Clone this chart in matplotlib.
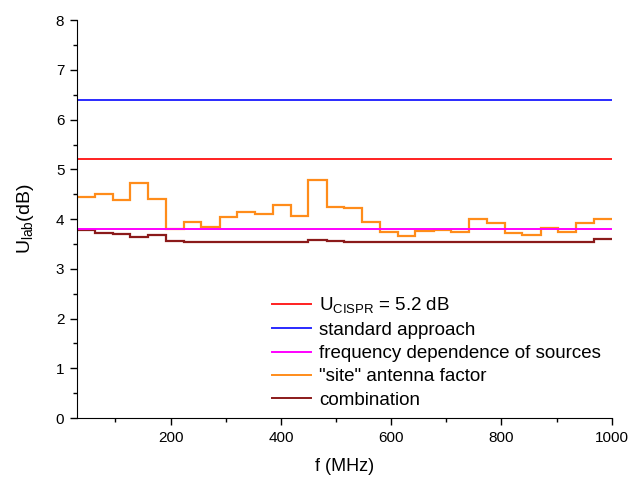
import matplotlib
matplotlib.use("Agg")
import matplotlib.pyplot as plt
from matplotlib.ticker import MultipleLocator
from matplotlib.lines import Line2D

plt.rcParams['font.family'] = ['Liberation Sans', 'DejaVu Sans']
plt.rcParams['mathtext.fontset'] = 'custom'
plt.rcParams['mathtext.rm'] = 'Liberation Sans'
plt.rcParams['mathtext.it'] = 'Liberation Sans:italic'

# data
u_cispr = 5.2
standard = 6.4
freq_dep = 3.8
edges = [30, 62, 95, 127, 159, 192, 224, 256, 289, 321, 353, 386, 418, 450, 483,
         515, 547, 580, 612, 644, 677, 709, 741, 774, 806, 838, 871, 903, 935, 968, 1000]
site_af = [4.45, 4.50, 4.38, 4.72, 4.41, 3.80, 3.95, 3.85, 4.04, 4.15, 4.11, 4.28, 4.07,
           4.78, 4.25, 4.23, 3.95, 3.74, 3.67, 3.77, 3.78, 3.74, 4.01, 3.92, 3.72, 3.69,
           3.83, 3.74, 3.92, 4.01]
combination = [3.79, 3.73, 3.70, 3.65, 3.68, 3.57, 3.55, 3.55, 3.55, 3.55, 3.54, 3.55,
               3.54, 3.58, 3.56, 3.55, 3.55, 3.55, 3.54, 3.54, 3.54, 3.54, 3.54, 3.53,
               3.54, 3.54, 3.54, 3.54, 3.54, 3.60]
labels = [r'U$_{\mathrm{CISPR}}$ = 5.2 dB', 'standard approach',
          'frequency dependence of sources', '"site" antenna factor', 'combination']
colors = ['#ff2020', '#2a2aff', '#ff00ff', '#ff8c1a', '#8b1a1a']

fig = plt.figure(figsize=(6.3, 4.8), dpi=100)
ax = fig.add_axes([0.122, 0.129, 0.849, 0.829])

xmin, xmax = edges[0], edges[-1]
ax.plot([xmin, xmax], [u_cispr, u_cispr], color=colors[0], lw=1.4)
ax.plot([xmin, xmax], [standard, standard], color=colors[1], lw=1.4)
ax.plot([xmin, xmax], [freq_dep, freq_dep], color=colors[2], lw=1.4)
ax.stairs(site_af, edges, color=colors[3], lw=1.6, baseline=None)
ax.stairs(combination, edges, color=colors[4], lw=1.6, baseline=None)

ax.set_xlim(30, 1000)
ax.set_ylim(0, 8)
ax.xaxis.set_major_locator(MultipleLocator(200))
ax.xaxis.set_minor_locator(MultipleLocator(100))
ax.yaxis.set_major_locator(MultipleLocator(1))
ax.yaxis.set_minor_locator(MultipleLocator(0.5))
for s in ['top', 'right']:
    ax.spines[s].set_visible(False)
ax.tick_params(which='major', direction='out', length=5, width=1, labelsize=11, pad=4)
ax.tick_params(which='minor', direction='out', length=3, width=1)
ax.set_xlabel('f (MHz)', fontsize=13, labelpad=10)
ax.set_ylabel(r'U$_{\mathrm{lab}}$(dB)', fontsize=14, labelpad=14)

handles = [Line2D([], [], color=c, lw=1.4) for c in colors]
ax.legend(handles, labels, loc='lower left', bbox_to_anchor=(0.347, 0.0),
          frameon=False, fontsize=13.5, handlelength=2.1, handletextpad=0.43,
          labelspacing=0.33, borderaxespad=0.1)

fig.savefig('out.png', dpi=100)
